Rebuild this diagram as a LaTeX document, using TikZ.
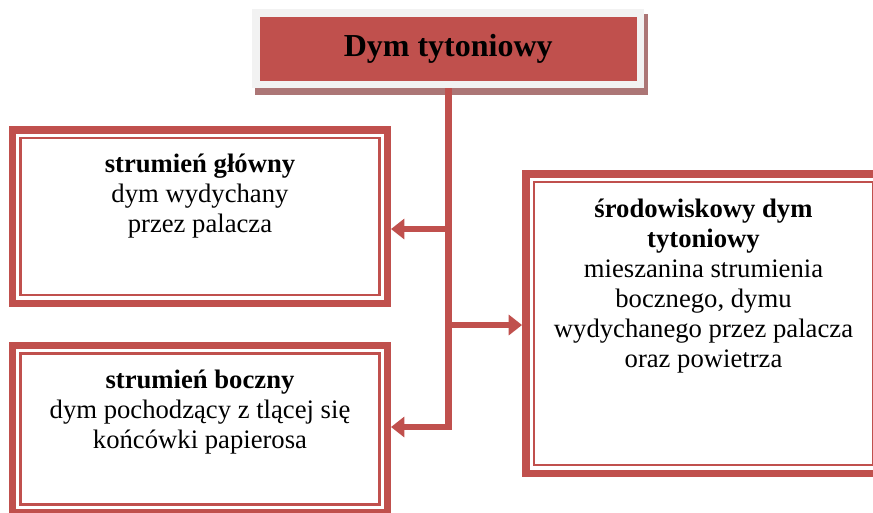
\documentclass[tikz,border=0pt]{standalone}
\usepackage{fontspec}
\setmainfont{Liberation Serif}
\usetikzlibrary{arrows.meta,backgrounds}
\definecolor{accent}{RGB}{192,80,77}
\definecolor{framegray}{RGB}{242,242,242}
\definecolor{shadowred}{RGB}{172,118,118}
\begin{document}
\begin{tikzpicture}[x=0.75pt,y=-0.75pt,
  frame/.style={draw=accent,line width=5.6pt,minimum width=#1},
  inner frame/.style={draw=accent,line width=1.9pt},
  link/.style={draw=accent,line width=5.2pt},
  tip/.style={-{Triangle[length=10pt,width=15pt]}},
  body/.style={font=\fontsize{20}{22.5}\selectfont,align=center,inner sep=0pt,anchor=north},
  headline/.style={fill=accent,draw=framegray,line width=5.6pt,inner sep=0pt,
    font=\fontsize{24}{28}\selectfont\bfseries,
    minimum width=288.4pt,minimum height=53.6pt}]
\useasboundingbox (0,0) rectangle (873,512);
\clip (0,0) rectangle (873,512);

% headline box with its hatched shadow
\node[headline] (title) at (448.25,48.75) {Dym tytoniowy};
\begin{scope}[on background layer]
  \fill[shadowred] ([shift={(3,5)}]title.north west) rectangle ([shift={(3.5,6.5)}]title.south east);
\end{scope}

% the three content boxes: thick outer frame, thin inner frame
\node[frame=280.9pt,minimum height=130.1pt] (box1) at (200,216.5) {};
\node[frame=280.9pt,minimum height=124.9pt] (box2) at (200,429) {};
\node[frame=266.6pt,minimum height=224.6pt] (box3) at (703.5,323.5) {};
\foreach \b in {box1,box2,box3}
  \draw[inner frame] ([shift={(11.75,11.75)}]\b.north west) rectangle ([shift={(-11.75,-11.75)}]\b.south east);

% texts
\node[body] (t1) at (200,154) {\textbf{strumień główny}\\dym wydychany\\przez palacza};
\node[body] (t2) at (200,370) {\textbf{strumień boczny}\\dym pochodzący z tlącej się\\końcówki papierosa};
\node[body] (t3) at (703.5,199) {\textbf{środowiskowy dym}\\\textbf{tytoniowy}\\mieszanina strumienia\\bocznego, dymu\\wydychanego przez palacza\\oraz powietrza};

% connectors from the headline
\coordinate (j1) at (title.south |- 0,229);
\coordinate (j3) at (title.south |- 0,325);
\draw[link,tip] (title.south) |- (box2.east |- 0,427);
\draw[link,tip] (j1) -- (box1.east |- j1);
\draw[link,tip] (j3) -- (box3.west |- j3);
\end{tikzpicture}
\end{document}
